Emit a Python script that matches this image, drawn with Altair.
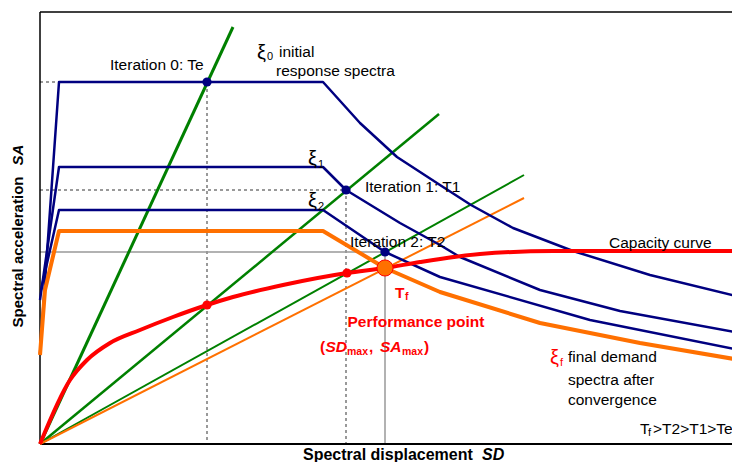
import altair as alt
import pandas as pd

# ---- data (SD to the right, SA upward, arbitrary drawing units) ----
xi0_sd = [0, 19, 283, 320, 357, 400, 431, 473, 533, 610, 700]
xi0_sa = [91, 362, 362, 321, 287, 259, 239, 216, 193, 169, 147]

xi1_sd = [0, 19, 283, 306, 360, 400, 420, 500, 580, 700]
xi1_sa = [144, 277, 277, 254, 221, 199, 187, 154, 133, 111]

xi2_sd = [1, 19, 283, 345, 400, 550, 700]
xi2_sa = [154, 234, 234, 192, 167, 124, 94]

xif_sd = [0, 5, 19, 283, 345, 400, 500, 600, 700]
xif_sa = [89, 154, 213, 213, 176, 152, 121, 101, 84]

cap_sd = [0, 30, 47, 70, 100, 133, 167, 193, 243, 307, 345, 380, 440, 513, 700]
cap_sa = [0, 64, 84, 101, 114, 127, 139, 147, 159, 171, 176, 182, 190, 193, 193]

te_sd, te_sa = [0, 193], [0, 417]
t1_sd, t1_sa = [0, 399], [0, 330]
t2_sd, t2_sa = [0, 484], [0, 269]
tf_sd, tf_sa = [0, 484], [0, 246]

dot_navy_sd, dot_navy_sa = [167, 306, 345], [362, 254, 192]
dot_red_sd, dot_red_sa = [167, 307], [139, 171]
perf_sd, perf_sa = [345], [176]

W, H = 692, 432
XMAX = 700
xs = alt.Scale(domain=[0, W], nice=False, zero=False)
ys = alt.Scale(domain=[0, H], nice=False, zero=False)
X = alt.X("sd:Q", scale=xs, axis=None)
Y = alt.Y("sa:Q", scale=ys, axis=None)
FONT = "Liberation Sans"

NAVY = "#000080"
GREEN = "#008000"
ORANGE = "#ff7000"
RED = "#ff0000"
GRAY = "#999999"


def line(sd, sa, color, width, dash=None, interp=None):
    df = pd.DataFrame({"sd": sd, "sa": sa, "i": list(range(len(sd)))})
    kw = dict(color=color, strokeWidth=width, strokeJoin="round")
    if dash:
        kw["strokeDash"] = dash
    if interp:
        kw["interpolate"] = interp
    return alt.Chart(df).mark_line(**kw).encode(x=X, y=Y, order="i:Q")


def pts(sd, sa, fill, size, stroke=None):
    df = pd.DataFrame({"sd": sd, "sa": sa})
    kw = dict(filled=True, color=fill, size=size, opacity=1)
    if stroke:
        kw.update(stroke=stroke, strokeWidth=1)
    return alt.Chart(df).mark_point(shape="circle", **kw).encode(x=X, y=Y)


def texts(rows, size, color="black", weight="normal", style="normal", align="left", angle=0):
    df = pd.DataFrame(rows, columns=["t", "sd", "sa"])
    kw = dict(font=FONT, fontSize=size, color=color, fontWeight=weight,
              fontStyle=style, align=align, baseline="middle")
    if angle:
        kw["angle"] = angle
    return alt.Chart(df).mark_text(**kw).encode(x=X, y=Y, text="t:N")


layers = [
    # reference lines
    line([0, 167, 167], [362, 362, 0], GRAY, 2, [3, 3]),
    line([0, 306, 306], [254, 254, 0], GRAY, 2, [3, 3]),
    line([0, 345, 345], [192, 192, 0], GRAY, 1.5),
    # frame
    line([0, 0], [0, H], "black", 1.5),
    line([0, XMAX], [0, 0], "black", 2),
    line([0, XMAX], [H, H], "black", 1.5),
    # period lines
    line(te_sd, te_sa, GREEN, 3),
    line(t1_sd, t1_sa, GREEN, 2.5),
    line(t2_sd, t2_sa, GREEN, 2),
    line(tf_sd, tf_sa, ORANGE, 2),
    # demand spectra
    line(xi0_sd, xi0_sa, NAVY, 2.5),
    line(xi1_sd, xi1_sa, NAVY, 2.5),
    line(xi2_sd, xi2_sa, NAVY, 2.5),
    line(xif_sd, xif_sa, ORANGE, 4),
    # capacity curve
    line(cap_sd, cap_sa, RED, 4, interp="monotone"),
    # points
    pts(dot_navy_sd, dot_navy_sa, NAVY, 85),
    pts(dot_red_sd, dot_red_sa, RED, 85),
    pts(perf_sd, perf_sa, ORANGE, 260, RED),
    # labels
    texts([
        ["Iteration 0: Te", 70, 379],
        ["initial", 239, 392],
        ["response spectra", 236, 373],
        ["Iteration 1: T1", 325, 257],
        ["Iteration 2: T2", 310, 202],
        ["Capacity curve", 569, 201],
        ["final demand", 528, 87],
        ["spectra after", 528, 64],
        ["convergence", 528, 44],
        ["T", 600, 15],
        [">T2>T1>Te", 613, 15],
    ], 15.5),
    texts([["ξ", 217, 391], ["ξ", 268, 285], ["ξ", 268, 243]], 20),
    texts([["0", 227, 387], ["1", 278, 279], ["2", 278, 237], ["f", 608, 11]], 11),
    texts([["Performance point", 376, 122]], 15.5, RED, "bold", align="center"),
    texts([["T", 355, 151], ["(", 280, 97], [",", 329, 97], [")", 384, 97]], 15.5, RED, "bold"),
    texts([["SD", 285.5, 97], ["SA", 340, 97]], 15.5, RED, "bold", "italic"),
    texts([["f", 365, 147], ["max", 307, 92], ["max", 362, 92]], 10.5, RED, "bold"),
    texts([["ξ", 510, 86]], 20, RED),
    texts([["f", 520, 81]], 11, RED),
    texts([["Spectral displacement", 263, -11]], 16, "black", "bold"),
    texts([["SD", 442, -11]], 16, "black", "bold", "italic"),
    texts([["Spectral acceleration", -22, 192]], 15, "black", "bold", align="center", angle=270),
    texts([["SA", -22, 289]], 15, "black", "bold", "italic", align="center", angle=270),
]

chart = alt.layer(*layers).properties(
    width=W, height=H,
    autosize=alt.AutoSizeParams(type="none"),
    padding={"left": 32, "top": 4, "right": 0, "bottom": 18},
).configure_view(stroke=None)

chart.save("out.html", embed_options={"renderer": "svg", "actions": False})
